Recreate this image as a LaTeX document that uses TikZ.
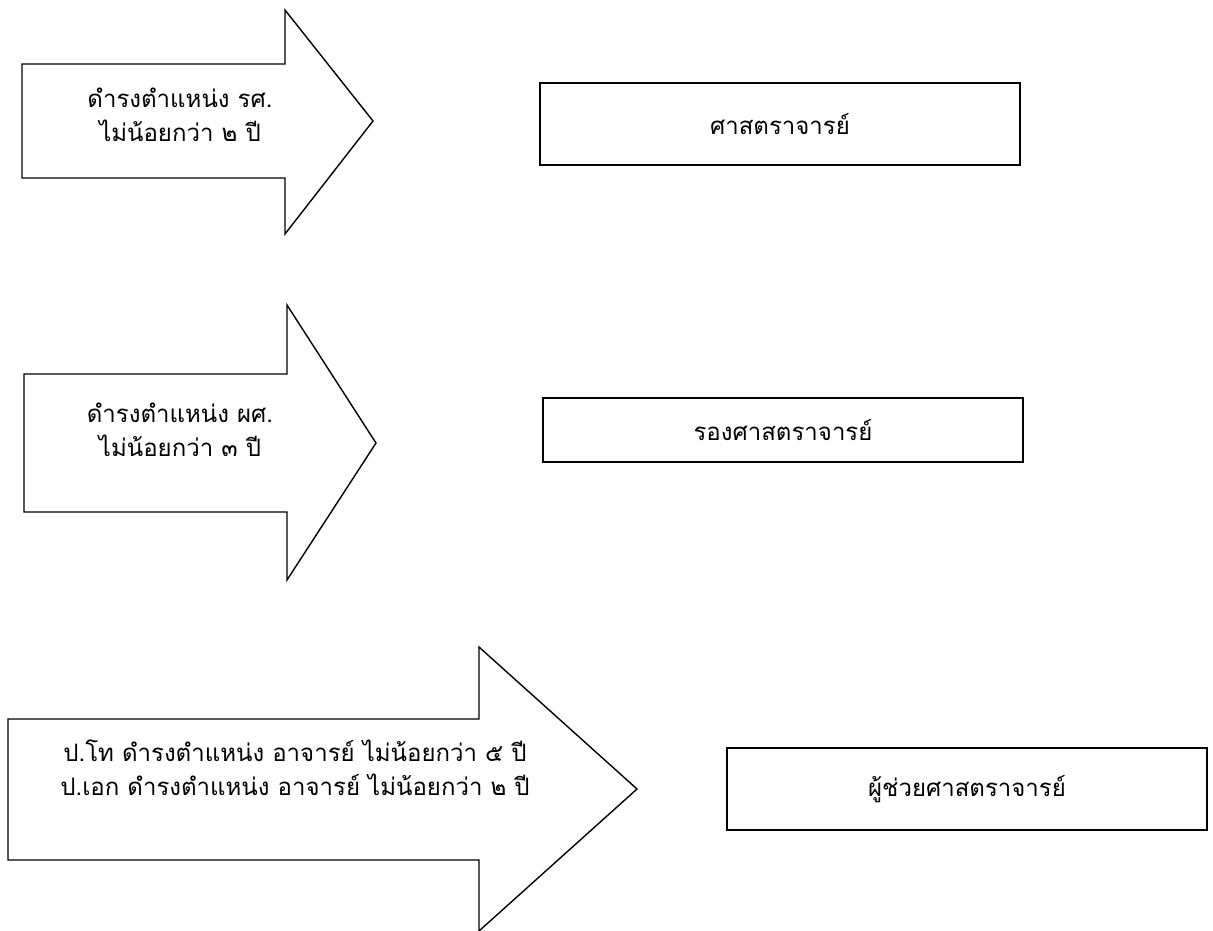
\documentclass[tikz,border=0pt]{standalone}
\usepackage{fontspec}
\newfontfamily\thaifont[Script=Thai]{Loma}
\begin{document}
\begin{tikzpicture}[x=1pt,y=-1pt,
    rank/.style={draw,line width=1.4pt,minimum width=480pt,
      font=\thaifont\fontsize{24}{28}\selectfont},
    cond/.style={align=center,
      font=\thaifont\fontsize{24}{34}\selectfont},
    blockarrow/.style={draw,line width=1.4pt,line join=miter}]
\useasboundingbox (0,0) rectangle (1213,930);
% block arrows
\draw[blockarrow] (22,64) -- (285,64) -- (285,10) -- (373,121)
      -- (285,234) -- (285,178) -- (22,178) -- cycle;
\draw[blockarrow] (24,374) -- (287,374) -- (287,305) -- (376,443)
      -- (287,580) -- (287,512) -- (24,512) -- cycle;
\draw[blockarrow] (8,719) -- (479,719) -- (479,647) -- (637,789)
      -- (479,931) -- (479,860) -- (8,860) -- cycle;
% conditions
\node[cond] (prof cond) at (180,115)
      {ดำรงตำแหน่ง รศ.\\ไม่น้อยกว่า ๒ ปี};
\node[cond] (assoc cond) at (180,430)
      {ดำรงตำแหน่ง ผศ.\\ไม่น้อยกว่า ๓ ปี};
\node[cond] (asst cond) at (295,768)
      {ป.โท ดำรงตำแหน่ง อาจารย์ ไม่น้อยกว่า ๕ ปี\\
       ป.เอก ดำรงตำแหน่ง อาจารย์ ไม่น้อยกว่า ๒ ปี};
% ranks
\node[rank,minimum height=82pt] (prof) at (780,124) {ศาสตราจารย์};
\node[rank,minimum height=64pt] (assoc) at (783,430) {รองศาสตราจารย์};
\node[rank,minimum height=82pt] (asst) at (967,789) {ผู้ช่วยศาสตราจารย์};
\end{tikzpicture}
\end{document}
